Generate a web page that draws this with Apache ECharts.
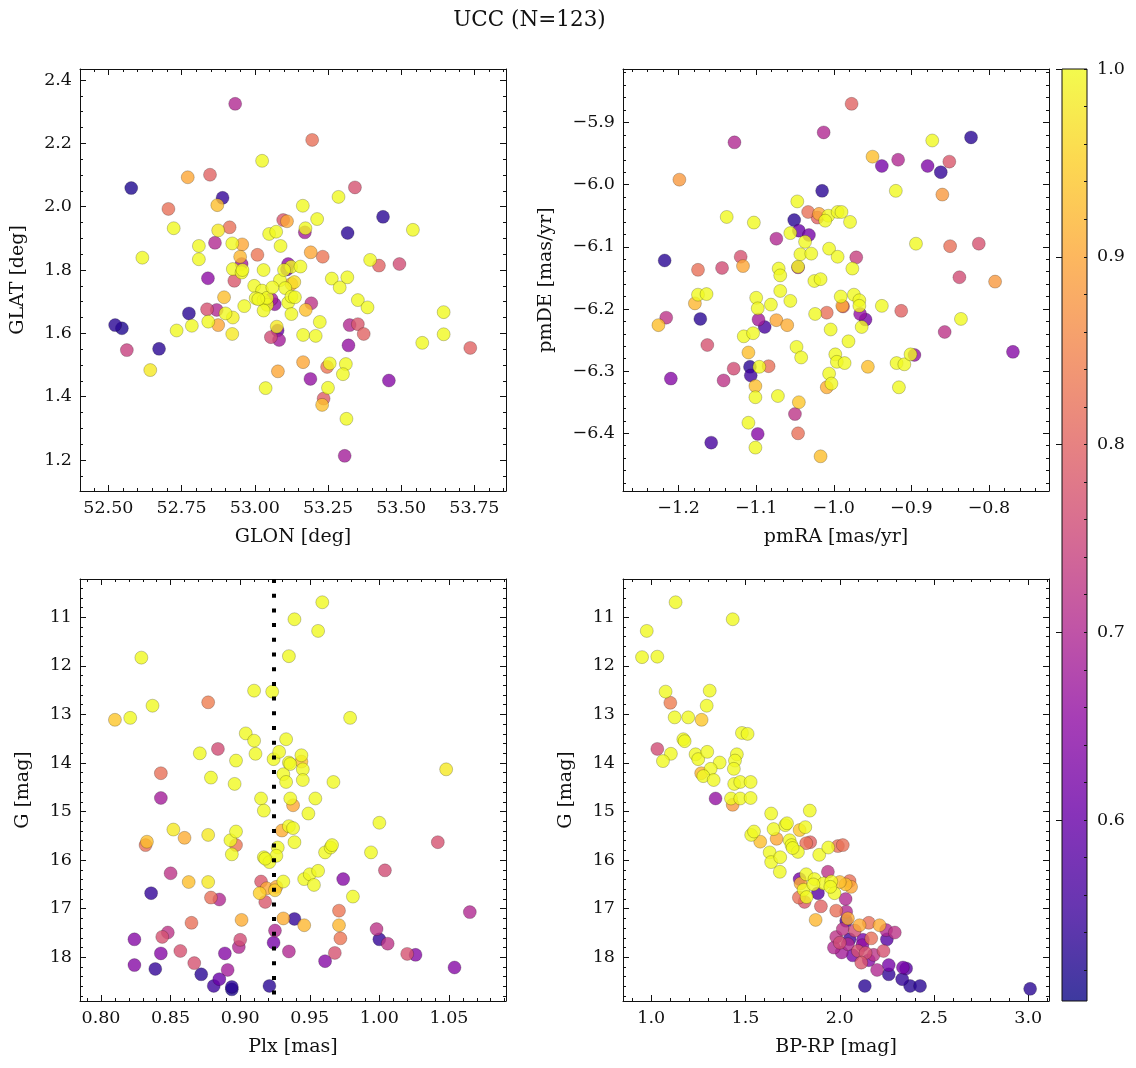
<!DOCTYPE html>
<html><head><meta charset="utf-8">
<script src="https://cdn.jsdelivr.net/npm/echarts@6/dist/echarts.min.js"></script>
<style>html,body{margin:0;padding:0;background:#fff}#c{width:1136px;height:1068px}</style>
</head><body><div id="c"></div>
<script>
// ---------- Panel A: GLON / GLAT ----------
const glon = [52.933,53.025,52.578,52.771,52.847,52.890,52.872,52.705,52.723,52.875,52.914,53.097,53.110,53.049,53.073,52.809,52.864,52.923,52.957,53.088,52.616,52.809,52.950,52.955,53.009,52.925,52.955,53.030,53.114,53.110,53.124,52.840,52.930,53.086,53.104,53.125,52.998,53.025,52.895,53.003,53.030,53.057,53.068,53.042,53.030,53.114,53.125,53.125,52.964,52.775,52.837,52.870,52.900,52.841,52.875,52.923,52.785,52.733,52.523,52.546,52.563,52.673,52.643,53.055,53.083,53.075,53.078,53.079,53.037,53.196,53.342,53.286,53.164,53.213,53.438,53.540,53.317,53.171,53.173,53.191,53.232,53.156,53.394,53.424,53.494,53.263,53.316,53.290,53.137,53.193,53.174,53.352,53.385,53.222,53.324,53.352,53.372,53.165,53.208,53.320,53.572,53.645,53.645,53.736,53.165,53.247,53.256,53.311,53.301,53.190,53.458,53.250,53.235,53.230,53.313,53.307,53.042,53.100,53.012,53.135,52.958,53.060,52.925];
const glat = [2.325,2.145,2.059,2.093,2.101,2.028,2.005,1.993,1.932,1.925,1.935,1.958,1.954,1.914,1.921,1.876,1.886,1.884,1.881,1.876,1.839,1.834,1.842,1.819,1.848,1.803,1.792,1.800,1.819,1.802,1.810,1.774,1.766,1.768,1.743,1.756,1.750,1.735,1.714,1.711,1.705,1.708,1.692,1.690,1.672,1.697,1.716,1.661,1.686,1.663,1.676,1.674,1.663,1.637,1.626,1.598,1.624,1.609,1.626,1.616,1.547,1.551,1.484,1.588,1.579,1.621,1.609,1.480,1.427,2.211,2.061,2.031,2.003,1.961,1.968,1.927,1.917,1.919,1.932,1.856,1.842,1.811,1.832,1.814,1.819,1.773,1.777,1.745,1.714,1.695,1.674,1.705,1.682,1.636,1.626,1.629,1.598,1.595,1.592,1.562,1.570,1.667,1.597,1.554,1.509,1.494,1.505,1.503,1.471,1.456,1.451,1.428,1.394,1.374,1.330,1.213,1.712,1.800,1.708,1.762,1.800,1.745,1.650];
const probPos = [0.70,1.00,0.52,0.90,0.80,0.54,0.93,0.82,1.00,0.98,0.82,0.78,0.90,1.00,1.00,1.00,0.70,1.00,0.90,1.00,1.00,1.00,0.92,0.68,0.83,1.00,1.00,1.00,0.65,0.60,1.00,0.65,0.78,1.00,1.00,0.92,1.00,1.00,0.93,1.00,1.00,0.68,0.66,1.00,1.00,1.00,1.00,1.00,1.00,0.53,0.77,0.70,1.00,1.00,0.90,0.98,1.00,1.00,0.53,0.52,0.74,0.53,0.98,0.76,0.68,0.98,0.60,0.90,1.00,0.82,0.77,1.00,1.00,1.00,0.53,1.00,0.53,0.68,1.00,0.90,0.83,1.00,1.00,0.80,0.76,1.00,1.00,1.00,1.00,0.72,0.93,1.00,1.00,1.00,0.70,0.78,0.80,1.00,1.00,0.66,1.00,1.00,1.00,0.80,0.90,0.83,1.00,1.00,1.00,0.66,0.64,1.00,0.79,0.93,1.00,0.68,1.00,1.00,1.00,0.97,1.00,1.00,0.99];

// ---------- Panel B: pmRA / pmDE ----------
const pmra = [-1.128,-1.013,-1.199,-1.015,-1.047,-1.138,-1.103,-1.033,-1.019,-1.021,-1.007,-1.011,-0.995,-1.051,-1.045,-1.032,-1.056,-1.037,-1.074,-1.006,-0.995,-1.043,-1.029,-1.218,-1.120,-1.117,-1.144,-1.175,-1.071,-1.069,-1.046,-1.046,-1.025,-1.017,-1.175,-1.164,-1.179,-1.069,-1.100,-1.098,-1.081,-1.056,-1.226,-1.216,-1.172,-1.097,-1.089,-1.074,-1.060,-1.024,-1.009,-1.004,-1.116,-1.104,-1.163,-1.048,-1.042,-1.110,-0.998,-0.996,-1.129,-1.108,-1.107,-1.096,-1.084,-1.101,-1.101,-1.072,-1.006,-1.003,-1.009,-1.210,-1.142,-1.045,-1.050,-1.110,-1.098,-1.046,-1.158,-1.101,-1.017,-0.977,-0.873,-0.823,-0.950,-0.938,-0.917,-0.879,-0.862,-0.851,-0.920,-0.860,-0.990,-0.979,-0.894,-0.850,-0.813,-0.971,-0.976,-0.838,-0.792,-0.991,-0.974,-0.967,-0.988,-0.989,-0.967,-0.938,-0.966,-0.959,-0.964,-0.913,-0.836,-0.857,-0.981,-0.986,-0.956,-0.919,-0.909,-0.901,-0.896,-0.916,-0.769];
const pmde = [-5.932,-5.916,-5.992,-6.010,-6.027,-6.052,-6.061,-6.044,-6.047,-6.053,-6.050,-6.058,-6.044,-6.057,-6.074,-6.081,-6.078,-6.092,-6.087,-6.103,-6.116,-6.112,-6.111,-6.122,-6.116,-6.131,-6.134,-6.137,-6.135,-6.146,-6.133,-6.132,-6.155,-6.152,-6.177,-6.176,-6.191,-6.171,-6.182,-6.199,-6.193,-6.187,-6.226,-6.214,-6.216,-6.217,-6.229,-6.218,-6.226,-6.208,-6.206,-6.233,-6.244,-6.239,-6.258,-6.261,-6.278,-6.270,-6.273,-6.285,-6.296,-6.293,-6.307,-6.293,-6.292,-6.324,-6.342,-6.340,-6.304,-6.320,-6.326,-6.312,-6.315,-6.350,-6.369,-6.383,-6.401,-6.400,-6.415,-6.423,-6.437,-5.870,-5.929,-5.924,-5.955,-5.970,-5.960,-5.970,-5.980,-5.963,-6.010,-6.016,-6.044,-6.060,-6.095,-6.099,-6.095,-6.117,-6.135,-6.149,-6.156,-6.180,-6.177,-6.186,-6.196,-6.195,-6.195,-6.195,-6.208,-6.217,-6.229,-6.203,-6.216,-6.237,-6.252,-6.287,-6.293,-6.287,-6.289,-6.273,-6.274,-6.326,-6.269];
const probPM = [0.70,0.70,0.88,0.53,1.00,1.00,1.00,0.82,0.90,0.80,1.00,1.00,1.00,0.53,0.60,0.62,1.00,1.00,0.70,1.00,1.00,1.00,1.00,0.53,0.77,0.90,0.76,0.82,1.00,1.00,0.70,1.00,1.00,1.00,1.00,1.00,0.92,1.00,1.00,1.00,1.00,1.00,0.93,0.72,0.53,0.68,0.56,0.90,0.91,1.00,0.82,1.00,1.00,1.00,0.77,1.00,1.00,0.93,1.00,1.00,0.76,0.53,0.55,1.00,0.82,0.93,1.00,1.00,1.00,1.00,0.91,0.64,0.72,0.94,0.72,1.00,0.64,0.82,0.56,1.00,0.93,0.80,1.00,0.53,0.93,0.62,0.70,0.63,0.54,0.78,1.00,0.88,1.00,1.00,1.00,0.82,0.77,0.74,1.00,0.76,0.88,1.00,1.00,1.00,0.78,0.90,1.00,1.00,0.66,0.62,1.00,0.80,1.00,0.72,1.00,1.00,0.93,1.00,1.00,1.00,0.66,1.00,0.64];

// ---------- Panel C: Plx / G ----------
const plx = [0.939,0.829,0.935,0.910,0.923,0.837,0.877,0.810,0.821,0.904,0.910,0.933,0.884,0.871,0.897,0.911,0.924,0.928,0.935,0.843,0.879,0.896,0.931,0.933,0.843,0.915,0.917,0.936,0.938,0.935,0.930,0.939,0.852,0.860,0.877,0.833,0.832,0.893,0.897,0.897,0.894,0.917,0.921,0.927,0.926,0.850,0.863,0.877,0.836,0.879,0.885,0.915,0.919,0.914,0.918,0.926,0.931,0.865,0.901,0.931,0.939,0.824,0.844,0.848,0.857,0.843,0.824,0.839,0.867,0.872,0.885,0.881,0.891,0.894,0.894,0.889,0.900,0.899,0.925,0.924,0.921,0.935,0.959,0.956,0.979,0.944,0.944,0.945,0.945,0.967,1.048,0.954,0.949,0.938,1.000,1.042,0.961,0.965,0.966,0.994,0.946,0.950,0.956,0.953,0.974,1.004,0.981,0.971,0.971,0.972,0.946,0.998,1.000,1.006,0.968,0.961,1.020,1.026,1.065,1.054,0.925,0.918,0.936];
const gPlx = [11.04,11.83,11.80,12.51,12.53,12.82,12.75,13.11,13.07,13.39,13.54,13.51,13.71,13.80,13.95,13.81,13.92,13.77,13.99,14.21,14.30,14.43,14.23,14.39,14.72,14.73,14.98,14.73,14.87,15.30,15.39,15.63,15.37,15.54,15.48,15.62,15.69,15.59,15.41,15.69,15.88,15.94,16.04,15.74,15.91,16.27,16.45,16.45,16.68,16.77,16.81,16.44,16.58,16.68,16.86,16.55,16.44,17.29,17.23,17.20,17.21,17.63,17.58,17.49,17.87,17.92,18.16,18.24,18.12,18.35,18.45,18.59,18.26,18.61,18.66,17.92,17.64,17.79,17.45,17.70,18.59,17.88,10.69,11.28,13.07,13.84,13.97,14.13,14.35,14.39,14.13,14.73,15.04,15.34,15.23,15.63,15.84,15.74,15.69,15.84,16.39,16.29,16.22,16.51,16.39,16.21,16.75,17.04,17.34,17.61,17.34,17.42,17.63,17.72,17.91,18.08,17.93,17.95,17.07,18.21,16.62,15.97,14.02];
const probPlx = [1.00,1.00,1.00,1.00,1.00,1.00,0.84,0.94,1.00,1.00,1.00,1.00,0.76,1.00,1.00,1.00,1.00,1.00,1.00,0.82,1.00,1.00,1.00,1.00,0.68,1.00,1.00,1.00,0.90,1.00,0.91,1.00,0.98,0.91,0.98,0.93,0.82,1.00,1.00,0.83,1.00,1.00,1.00,1.00,1.00,0.72,0.93,0.98,0.54,0.82,0.70,0.78,0.90,0.95,0.78,0.91,1.00,0.82,0.91,0.91,0.54,0.64,0.77,0.72,0.77,0.64,0.64,0.54,0.77,0.53,0.60,0.55,0.68,0.53,0.52,0.64,0.76,0.70,0.70,0.62,0.53,0.70,1.00,1.00,1.00,1.00,0.93,1.00,1.00,1.00,0.98,1.00,1.00,1.00,1.00,0.77,1.00,1.00,1.00,1.00,1.00,1.00,1.00,1.00,0.64,0.76,1.00,0.83,0.92,0.83,0.92,0.72,0.54,0.72,0.77,0.64,0.77,0.64,0.70,0.64,0.95,1.00,1.00];
const plxRef = 0.924;

// ---------- Panel D: BP-RP / G ----------
const bprp = [1.129,1.432,0.976,0.951,1.032,1.076,1.310,1.101,1.294,1.124,1.196,1.267,1.481,1.511,1.170,1.177,1.032,1.104,1.062,1.235,1.249,1.297,1.363,1.454,1.444,1.438,1.315,1.265,1.276,1.331,1.440,1.472,1.527,1.341,1.423,1.432,1.472,1.527,1.636,1.841,1.530,1.545,1.578,1.649,1.665,1.711,1.720,1.787,1.817,1.628,1.636,1.684,1.682,1.734,1.744,1.778,1.822,1.843,1.891,1.939,1.990,1.787,1.822,1.792,1.808,1.866,1.914,1.937,1.955,1.884,1.783,1.824,1.813,1.972,1.872,1.981,1.981,1.969,2.016,2.031,2.060,2.052,2.031,2.034,2.043,2.034,2.105,2.154,2.211,2.246,2.292,2.250,2.167,2.123,2.052,2.016,2.000,2.043,2.069,2.096,2.137,2.114,2.154,2.232,2.198,2.260,2.260,2.335,2.352,2.331,2.373,2.426,2.133,3.010,1.950,2.000,1.900,2.080,2.120,1.860,1.750,2.180,2.010];
const gCmd = [10.69,11.04,11.28,11.82,11.81,12.53,12.51,12.76,12.82,13.06,13.06,13.11,13.38,13.40,13.51,13.55,13.71,13.81,13.96,13.82,13.92,13.77,13.99,13.82,13.95,14.12,14.12,14.21,14.27,14.35,14.43,14.39,14.39,14.73,14.73,14.86,14.73,14.72,15.04,14.98,15.48,15.41,15.62,15.36,15.56,15.28,15.24,15.38,15.32,15.84,16.04,15.94,16.24,15.59,15.69,15.83,15.65,15.63,15.89,15.74,15.71,16.39,16.29,16.48,16.61,16.39,16.48,16.24,16.44,16.68,16.77,16.76,16.86,16.68,17.23,17.04,17.58,17.80,15.69,16.50,16.55,16.43,16.80,17.06,17.20,17.25,17.34,17.29,17.34,17.44,17.49,17.63,17.61,17.64,17.63,17.42,17.70,17.73,17.96,17.87,17.91,18.11,18.06,17.87,18.26,18.16,18.35,18.21,18.23,18.45,18.59,18.59,18.59,18.65,16.55,16.45,16.95,17.45,17.75,16.50,15.75,17.95,17.90];
const probCmd = [1.00,1.00,1.00,1.00,1.00,1.00,1.00,0.84,1.00,1.00,1.00,0.94,1.00,1.00,1.00,1.00,0.76,1.00,1.00,1.00,1.00,1.00,1.00,1.00,1.00,1.00,1.00,0.92,1.00,1.00,1.00,1.00,1.00,0.66,1.00,0.88,1.00,1.00,1.00,1.00,1.00,1.00,0.93,1.00,0.90,1.00,1.00,0.94,1.00,1.00,1.00,1.00,1.00,1.00,1.00,1.00,0.82,0.80,1.00,1.00,0.82,0.62,1.00,0.91,1.00,1.00,1.00,0.72,1.00,0.58,0.82,1.00,0.78,1.00,0.92,0.82,0.72,0.70,0.82,0.93,0.90,0.82,0.70,0.70,0.91,0.56,0.91,0.82,0.91,0.70,0.72,0.58,0.82,0.62,0.56,0.72,0.76,0.70,0.62,0.77,0.77,0.78,0.64,0.77,0.70,0.62,0.54,0.62,0.58,0.54,0.53,0.53,0.53,0.53,1.00,0.93,0.80,0.76,0.66,1.00,1.00,0.72,0.68];

// ---------- ticks ----------
const glonTicks = [52.5, 52.75, 53.0, 53.25, 53.5, 53.75];
const glatTicks = [1.2, 1.4, 1.6, 1.8, 2.0, 2.2, 2.4];
const pmraTicks = [-1.2, -1.1, -1.0, -0.9, -0.8];
const pmdeTicks = [-6.4, -6.3, -6.2, -6.1, -6.0, -5.9];
const plxTicks = [0.80, 0.85, 0.90, 0.95, 1.00, 1.05];
const gTicks = [11, 12, 13, 14, 15, 16, 17, 18];
const bprpTicks = [1.0, 1.5, 2.0, 2.5, 3.0];
const cbarTicks = [0.6, 0.7, 0.8, 0.9, 1.0];
const probMin = 0.5036, probMax = 1.0;

const plasma = ['#0d0887','#41049d','#6a00a8','#8f0da4','#b12a90','#cc4778','#e16462','#f2844b','#fca636','#fcce25','#f0f921'];
const FONT = 'DejaVu Serif';
const INK = '#111';
const TICK_FS = 17.5, NAME_FS = 19, TITLE_FS = 21.5;

function minorList(min, max, step) {
  const out = [];
  const a = Math.ceil(min / step - 1e-9), b = Math.floor(max / step + 1e-9);
  for (let i = a; i <= b; i++) out.push(+(i * step).toFixed(6));
  return out;
}
function fmtNum(v, dec) { return (+v).toFixed(dec).replace('-', '\u2212'); }

function mkAxes(kind, g, min, max, majors, minorStep, dec, name, nameGap, inverse) {
  const minors = minorList(min, max, minorStep);
  const ls = {color: INK, width: 1};
  const pA = kind === 'x' ? 'bottom' : 'left';
  const pB = kind === 'x' ? 'top' : 'right';
  const base = {type: 'value', gridIndex: g, min: min, max: max, inverse: !!inverse, splitLine: {show: false}, scale: true};
  return [
    Object.assign({}, base, {position: pA, axisLine: {show: true, onZero: false, lineStyle: ls},
      axisTick: {show: true, inside: true, length: 6, customValues: majors, lineStyle: ls},
      axisLabel: {show: true, customValues: majors, formatter: v => fmtNum(v, dec), fontSize: TICK_FS, fontFamily: FONT, color: INK, margin: 8},
      name: name, nameLocation: 'middle', nameGap: nameGap, nameTextStyle: {fontSize: NAME_FS, fontFamily: FONT, color: INK}}),
    Object.assign({}, base, {position: pA, axisLine: {show: false},
      axisTick: {show: true, inside: true, length: 3, customValues: minors, lineStyle: ls}, axisLabel: {show: false}}),
    Object.assign({}, base, {position: pB, axisLine: {show: true, onZero: false, lineStyle: ls},
      axisTick: {show: true, inside: true, length: 6, customValues: majors, lineStyle: ls}, axisLabel: {show: false}}),
    Object.assign({}, base, {position: pB, axisLine: {show: false},
      axisTick: {show: true, inside: true, length: 3, customValues: minors, lineStyle: ls}, axisLabel: {show: false}})
  ];
}

function pts(xs, ys, ps) {
  return xs.map((x, i) => [x, ys[i], ps[i]]).sort((a, b) => a[2] - b[2]);
}
function scatter(g, data, extra) {
  return Object.assign({
    type: 'scatter', xAxisIndex: 4 * g, yAxisIndex: 4 * g, data: data, symbolSize: 13,
    itemStyle: {opacity: 0.8, borderColor: 'rgba(0,0,0,0.45)', borderWidth: 0.6},
    emphasis: {disabled: true}, animation: false
  }, extra || {});
}

const xAxes = [].concat(
  mkAxes('x', 0, 52.403, 53.858, glonTicks, 0.05, 2, 'GLON [deg]', 37),
  mkAxes('x', 1, -1.2717, -0.7225, pmraTicks, 0.02, 1, 'pmRA [mas/yr]', 37),
  mkAxes('x', 2, 0.7849, 1.091, plxTicks, 0.01, 2, 'Plx [mas]', 37),
  mkAxes('x', 3, 0.850, 3.110, bprpTicks, 0.1, 1, 'BP-RP [mag]', 37),
  [{type: 'value', gridIndex: 4, show: false, min: 0, max: 1}]
);
const yAxes = [].concat(
  mkAxes('y', 0, 1.102, 2.435, glatTicks, 0.05, 1, 'GLAT [deg]', 52),
  mkAxes('y', 1, -6.4928, -5.814, pmdeTicks, 0.02, 1, 'pmDE [mas/yr]', 67),
  mkAxes('y', 2, 10.211, 18.900, gTicks, 0.2, 0, 'G [mag]', 47, true),
  mkAxes('y', 3, 10.211, 18.900, gTicks, 0.2, 0, 'G [mag]', 47, true),
  [
    {type: 'value', gridIndex: 4, position: 'right', min: probMin, max: probMax, z: 10, splitLine: {show: false},
     axisLine: {show: false}, axisTick: {show: true, inside: true, length: 6, customValues: cbarTicks, lineStyle: {color: INK}},
     axisLabel: {show: true, customValues: cbarTicks, formatter: v => fmtNum(v, 1), fontSize: TICK_FS, fontFamily: FONT, color: INK, margin: 10}},
    {type: 'value', gridIndex: 4, position: 'right', min: probMin, max: probMax, z: 10, splitLine: {show: false},
     axisLine: {show: false}, axisTick: {show: true, inside: true, length: 3, customValues: minorList(probMin, probMax, 0.02), lineStyle: {color: INK}},
     axisLabel: {show: false}}
  ]
);

const cbarTop = 69, cbarH = 932;
const option = {
  backgroundColor: '#fff',
  animation: false,
  grid: [
    {left: 80, top: 69, width: 426, height: 422},
    {left: 623, top: 69, width: 426, height: 422},
    {left: 80, top: 579, width: 426, height: 422},
    {left: 623, top: 579, width: 426, height: 422},
    {left: 1062, top: cbarTop, width: 25, height: cbarH}
  ],
  xAxis: xAxes,
  yAxis: yAxes,
  visualMap: {type: 'continuous', show: false, min: probMin, max: probMax, dimension: 2, seriesIndex: [0, 1, 2, 3], inRange: {color: plasma}},
  graphic: [
    {type: 'text', z: 10, style: {text: 'UCC (N=123)', x: 529.5, y: 20, align: 'center', verticalAlign: 'middle', fontSize: TITLE_FS, fontFamily: FONT, fill: INK}},
    {type: 'rect', z: 0, shape: {x: 1062, y: cbarTop, width: 25, height: cbarH},
     style: {opacity: 0.8, fill: {type: 'linear', x: 0, y: 1, x2: 0, y2: 0,
       colorStops: plasma.map((c, i) => ({offset: i / (plasma.length - 1), color: c}))}}},
    {type: 'rect', z: 20, shape: {x: 1062, y: cbarTop, width: 25, height: cbarH}, style: {fill: 'none', stroke: INK, lineWidth: 1}}
  ],
  series: [
    scatter(0, pts(glon, glat, probPos)),
    scatter(1, pts(pmra, pmde, probPM)),
    scatter(2, pts(plx, gPlx, probPlx), {
      markLine: {silent: true, symbol: ['none', 'none'], label: {show: false}, animation: false, precision: 4,
        lineStyle: {color: '#000', width: 4, type: [4, 10.7], cap: 'butt', opacity: 1},
        emphasis: {disabled: true}, data: [{xAxis: plxRef}]}
    }),
    scatter(3, pts(bprp, gCmd, probCmd))
  ]
};
const chart = echarts.init(document.getElementById('c'), null, {renderer: 'canvas'});
chart.setOption(option);
</script>
</body></html>
